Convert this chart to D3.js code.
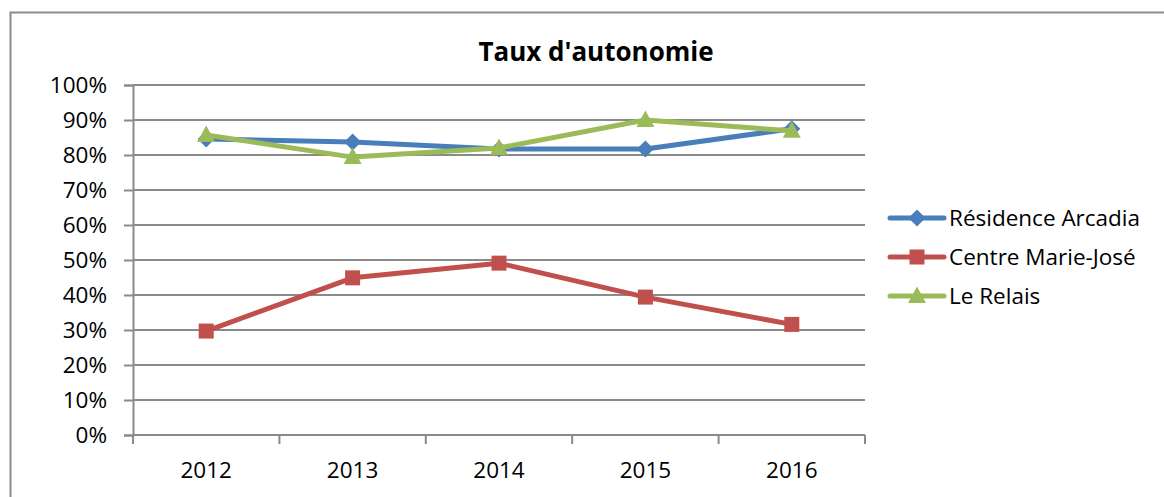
<!DOCTYPE html>
<html>
<head>
<meta charset="utf-8">
<script src="https://cdn.jsdelivr.net/npm/d3@7"></script>
<style>
  html, body { margin: 0; padding: 0; background: #fff; }
  svg { display: block; font-family: "Open Sans", Lato, sans-serif; }
</style>
</head>
<body>
<svg id="chart" width="1164" height="497"></svg>
<script>
// Chart data
const years = ["2012", "2013", "2014", "2015", "2016"];
const residenceArcadia = [0.846, 0.837, 0.817, 0.817, 0.875];
const centreMarieJose = [0.297, 0.449, 0.491, 0.394, 0.316];
const leRelais = [0.857, 0.794, 0.820, 0.900, 0.869];
const seriesNames = ["Résidence Arcadia", "Centre Marie-José", "Le Relais"];
const yTicks = [0, 0.1, 0.2, 0.3, 0.4, 0.5, 0.6, 0.7, 0.8, 0.9, 1.0];
const title = "Taux d'autonomie";

const series = [
  { name: seriesNames[0], values: residenceArcadia, color: "#4a7ebb", marker: "diamond" },
  { name: seriesNames[1], values: centreMarieJose, color: "#c0504d", marker: "square" },
  { name: seriesNames[2], values: leRelais, color: "#9bbb59", marker: "triangle" }
];

const svg = d3.select("#chart");
const plot = { left: 133, right: 865, top: 85, bottom: 435 };
const gridColor = "#8a8a8a";
const axisLabelSize = 22.5;
const legendSize = 22.5;

// Outer chart frame
svg.append("path")
  .attr("d", "M10.5,497 V12.5 H1164")
  .attr("fill", "none")
  .attr("stroke", "#8c8c8c")
  .attr("stroke-width", 2);

const x = d3.scaleBand().domain(years).range([plot.left, plot.right]);
const y = d3.scaleLinear().domain([0, 1]).range([plot.bottom, plot.top]);

// Horizontal gridlines
svg.append("g")
  .selectAll("line")
  .data(yTicks.slice(1))
  .join("line")
  .attr("x1", plot.left)
  .attr("x2", plot.right)
  .attr("y1", d => y(d))
  .attr("y2", d => y(d))
  .attr("stroke", gridColor)
  .attr("stroke-width", 2);

// Y axis
const yAxis = svg.append("g")
  .attr("transform", `translate(${plot.left},0)`)
  .call(d3.axisLeft(y).tickValues(yTicks).tickFormat(d3.format(".0%")).tickSize(9).tickPadding(17));
yAxis.select(".domain").attr("stroke", gridColor).attr("stroke-width", 2);
yAxis.selectAll(".tick line").attr("stroke", gridColor).attr("stroke-width", 2);
yAxis.selectAll("text").attr("font-size", axisLabelSize).attr("fill", "#000").attr("font-family", "Open Sans");

// X axis with ticks at category boundaries
const xAxisG = svg.append("g").attr("transform", `translate(0,${plot.bottom})`);
xAxisG.append("line")
  .attr("x1", plot.left).attr("x2", plot.right)
  .attr("stroke", gridColor).attr("stroke-width", 2);
const boundaries = years.map(d => x(d)).concat([x(years[years.length - 1]) + x.bandwidth()]);
xAxisG.selectAll(".bt")
  .data(boundaries)
  .join("line")
  .attr("x1", d => d).attr("x2", d => d)
  .attr("y1", 0).attr("y2", 9)
  .attr("stroke", gridColor).attr("stroke-width", 2);
xAxisG.selectAll("text")
  .data(years)
  .join("text")
  .attr("x", d => x(d) + x.bandwidth() / 2)
  .attr("y", 43)
  .attr("text-anchor", "middle")
  .attr("font-size", axisLabelSize)
  .text(d => d);

// Marker shapes
function markerPath(type) {
  if (type === "diamond") return "M0,-8.5 L8.5,0 L0,8.5 L-8.5,0 Z";
  if (type === "square") return "M-7.5,-7.5 H7.5 V7.5 H-7.5 Z";
  return "M0,-9.5 L9,7 L-9,7 Z";
}

const cx = (d, i) => x(years[i]) + x.bandwidth() / 2;
const line = d3.line().x((d, i) => cx(d, i)).y(d => y(d));

series.forEach(s => {
  const g = svg.append("g");
  g.append("path")
    .attr("d", line(s.values))
    .attr("fill", "none")
    .attr("stroke", s.color)
    .attr("stroke-width", 5)
    .attr("stroke-linejoin", "round")
    .attr("stroke-linecap", "round");
  g.selectAll(".m")
    .data(s.values)
    .join("path")
    .attr("transform", (d, i) => `translate(${cx(d, i)},${y(d)})`)
    .attr("d", markerPath(s.marker))
    .attr("fill", s.color);
});

// Title
svg.append("text")
  .attr("x", 596)
  .attr("y", 61)
  .attr("text-anchor", "middle")
  .attr("font-size", 26)
  .attr("font-weight", "bold")
  .text(title);

// Legend
const legend = svg.append("g");
series.forEach((s, i) => {
  const ly = 218 + i * 39;
  const row = legend.append("g").attr("transform", `translate(0,${ly})`);
  row.append("line")
    .attr("x1", 890).attr("x2", 944)
    .attr("stroke", s.color).attr("stroke-width", 5)
    .attr("stroke-linecap", "round");
  row.append("path")
    .attr("transform", "translate(917,0)")
    .attr("d", markerPath(s.marker))
    .attr("fill", s.color);
  row.append("text")
    .attr("x", 949)
    .attr("y", 8)
    .attr("font-size", legendSize)
    .text(s.name);
});
</script>
</body>
</html>
